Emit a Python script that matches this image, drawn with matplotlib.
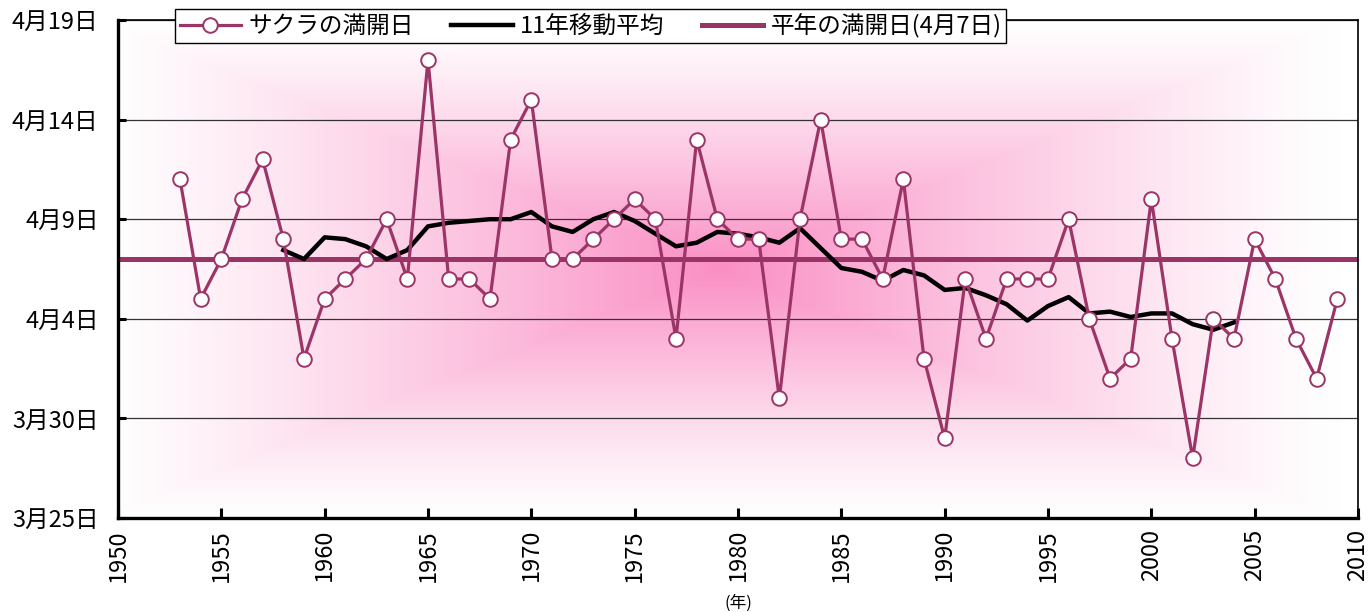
import matplotlib
matplotlib.use("Agg")
import matplotlib.pyplot as plt
import numpy as np

plt.rcParams['font.family'] = ['Noto Sans CJK JP', 'DejaVu Sans']

# bloom date as day of April (0 = 3/31, -1 = 3/30 ...)
years = list(range(1953, 2010))
bloom = [11, 5, 7, 10, 12, 8, 2, 5, 6, 7, 9, 6, 17, 6, 6, 5, 13, 15, 7, 7,
         8, 9, 10, 9, 3, 13, 9, 8, 8, 0, 9, 14, 8, 8, 6, 11, 2, -2, 6, 3,
         6, 6, 6, 9, 4, 1, 2, 10, 3, -3, 4, 3, 8, 6, 3, 1, 5]

# 11-year moving average, centred, 1958-2004
ma_years = list(range(1958, 2005))
ma_vals = [7.45, 7.00, 8.09, 8.00, 7.64, 7.00, 7.45, 8.64, 8.82, 8.91, 9.00,
           9.00, 9.36, 8.64, 8.36, 9.00, 9.36, 8.91, 8.27, 7.64, 7.82, 8.36,
           8.27, 8.09, 7.82, 8.55, 7.55, 6.55, 6.36, 5.91, 6.45, 6.18, 5.45,
           5.55, 5.18, 4.73, 3.91, 4.64, 5.09, 4.27, 4.36, 4.09, 4.27, 4.27,
           3.73, 3.45, 3.82]

normal_day = 7

y_ticks = [-6, -1, 4, 9, 14, 19]
y_labels = ['3月25日', '3月30日', '4月4日', '4月9日', '4月14日', '4月19日']
x_ticks = list(range(1950, 2011, 5))

purple = '#9b3467'

fig = plt.figure(figsize=(13.72, 6.12), dpi=100)
ax = fig.add_axes([0.086, 0.1536, 0.9038, 0.8137])

# pink "from centre" rectangular gradient background
nx, ny = 600, 300
gx = np.linspace(0, 1, nx)
gy = np.linspace(0, 1, ny)
X, Y = np.meshgrid(gx, gy)
cx, cy = 0.485, 0.50
t = np.maximum(np.abs(X - cx) / 0.50, np.abs(Y - cy) / 0.50)
t = np.clip(t, 0, 1)
w = (1 - t) ** 1.2
pink = np.array([0.98, 0.56, 0.77])
img = np.ones((ny, nx, 3)) * (1 - w[..., None]) + pink * w[..., None]
ax.imshow(img, extent=[0, 1, 0, 1], transform=ax.transAxes, aspect='auto',
          origin='lower', zorder=0)

ax.set_xlim(1950, 2010)
ax.set_ylim(-6, 19)

for v in y_ticks[1:]:
    ax.axhline(v, color='#333333', lw=0.9, zorder=1)

ax.plot(years, bloom, color=purple, lw=2.3, marker='o', markersize=10.5,
        markerfacecolor='white', markeredgecolor=purple, markeredgewidth=1.4,
        label='サクラの満開日', zorder=4)
ax.plot(ma_years, ma_vals, color='black', lw=3.2, label='11年移動平均', zorder=3)
ax.axhline(normal_day, color='#9a3366', lw=3.6, label='平年の満開日(4月7日)', zorder=2)

ax.set_yticks(y_ticks)
ax.set_yticklabels(y_labels, fontsize=17)
ax.set_xticks(x_ticks)
ax.set_xticklabels([str(x) for x in x_ticks], rotation=90, fontsize=17)
ax.tick_params(axis='y', direction='in', length=6, width=2.2, pad=14)
ax.tick_params(axis='x', direction='in', length=7, width=2.2, pad=8)

ax.spines['left'].set_linewidth(2.4)
ax.spines['bottom'].set_linewidth(2.4)
ax.spines['right'].set_linewidth(1.2)
ax.spines['top'].set_linewidth(1.2)

fig.text(0.538, 0.0, '(年)', fontsize=12, ha='center', va='bottom')

leg = ax.legend(loc='upper left', bbox_to_anchor=(0.046, 1.022), ncol=3,
                fontsize=17, frameon=True, fancybox=False, borderaxespad=0,
                handlelength=2.6, columnspacing=1.6, handletextpad=0.3,
                borderpad=0.2)
leg.get_frame().set_edgecolor('black')
leg.get_frame().set_linewidth(1.0)
leg.get_frame().set_alpha(1)
leg.set_zorder(10)

fig.savefig('out.png', dpi=100)
